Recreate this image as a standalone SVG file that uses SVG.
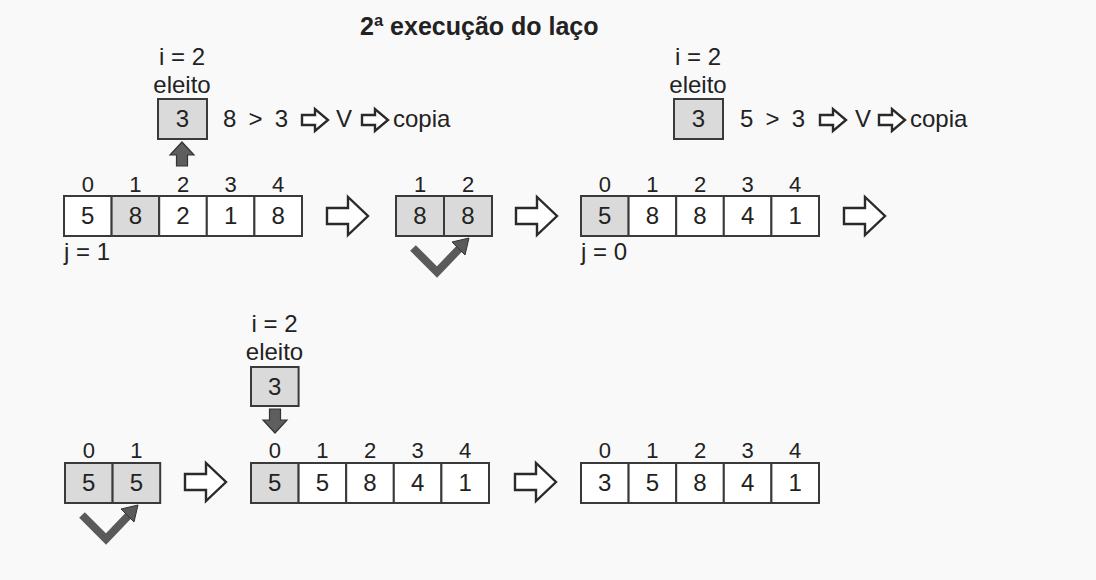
<svg xmlns="http://www.w3.org/2000/svg" xmlns:xlink="http://www.w3.org/1999/xlink" width="1096" height="580" viewBox="0 0 1096 580">
<style>
text{font-family:"Liberation Sans",Arial,sans-serif;fill:#222;}
.t{font-size:24px;}
.idx{font-size:22px;text-anchor:middle;}
.val{font-size:24px;text-anchor:middle;}
.mid{text-anchor:middle;}
.title{font-size:25px;font-weight:bold;}
.cell{fill:#fff;stroke:#3a3a3a;stroke-width:2;}
.g{fill:#dadada;}
.hol{fill:#fff;stroke:#2a2a2a;stroke-width:2.4;stroke-linejoin:miter;}
.solid{fill:#5e5e5e;stroke:#333;stroke-width:1.2;}
.vline{fill:none;stroke:#5a5a5a;stroke-width:8;stroke-linejoin:miter;}
</style>
<defs>
<path id="bigArrow" d="M0,-8 L21,-8 L21,-19 L41,0 L21,19 L21,8 L0,8 Z"/>
<path id="smallArrow" d="M0,-5 L13,-5 L13,-11 L26,0 L13,11 L13,5 L0,5 Z"/>
<g id="swap">
<polyline class="vline" points="0,0 24,24 47,0"/>
<polygon fill="#5a5a5a" stroke="#333" stroke-width="1" points="56,-10 39,-6 52,7"/>
</g>
</defs>
<rect width="1096" height="580" fill="#f9f9f9"/>

<text class="title" x="360" y="35">2ª execução do laço</text>

<g id="step1-label">
<text class="t mid" x="182" y="65">i = 2</text>
<text class="t mid" x="182" y="93">eleito</text>
<rect class="cell g" x="158" y="99" width="49" height="40"/>
<text class="val" x="182.5" y="127">3</text>
<text class="t" x="223" y="127" textLength="65" lengthAdjust="spacing">8 &gt; 3</text>
<use xlink:href="#smallArrow" class="hol" x="302" y="120"/>
<text class="t" x="336" y="127">V</text>
<use xlink:href="#smallArrow" class="hol" x="362" y="120"/>
<text class="t" x="393" y="127">copia</text>
</g>

<g id="step1-array">
<rect class="cell" x="64" y="196" width="47.6" height="40"/>
<rect class="cell g" x="111.6" y="196" width="47.6" height="40"/>
<rect class="cell" x="159.2" y="196" width="47.6" height="40"/>
<rect class="cell" x="206.8" y="196" width="47.6" height="40"/>
<rect class="cell" x="254.4" y="196" width="47.6" height="40"/>
<text class="idx" x="87.8" y="192">0</text>
<text class="idx" x="135.4" y="192">1</text>
<text class="idx" x="183" y="192">2</text>
<text class="idx" x="230.6" y="192">3</text>
<text class="idx" x="278.2" y="192">4</text>
<text class="val" x="87.8" y="224">5</text>
<text class="val" x="135.4" y="224">8</text>
<text class="val" x="183" y="224">2</text>
<text class="val" x="230.6" y="224">1</text>
<text class="val" x="278.2" y="224">8</text>
<text class="t" x="64" y="260">j = 1</text>
</g>

<g id="step2-array">
<rect class="cell g" x="396" y="196" width="48" height="40"/>
<rect class="cell g" x="444" y="196" width="48" height="40"/>
<text class="idx" x="420" y="192">1</text>
<text class="idx" x="468" y="192">2</text>
<text class="val" x="420" y="224">8</text>
<text class="val" x="468" y="224">8</text>
</g>

<g id="step3-label">
<text class="t mid" x="698" y="65">i = 2</text>
<text class="t mid" x="698" y="93">eleito</text>
<rect class="cell g" x="674" y="99" width="49" height="40"/>
<text class="val" x="698.5" y="127">3</text>
<text class="t" x="740" y="127" textLength="65" lengthAdjust="spacing">5 &gt; 3</text>
<use xlink:href="#smallArrow" class="hol" x="820" y="120"/>
<text class="t" x="855" y="127">V</text>
<use xlink:href="#smallArrow" class="hol" x="879" y="120"/>
<text class="t" x="910" y="127">copia</text>
</g>

<g id="step3-array">
<rect class="cell g" x="581" y="196" width="47.6" height="40"/>
<rect class="cell" x="628.6" y="196" width="47.6" height="40"/>
<rect class="cell" x="676.2" y="196" width="47.6" height="40"/>
<rect class="cell" x="723.8" y="196" width="47.6" height="40"/>
<rect class="cell" x="771.4" y="196" width="47.6" height="40"/>
<text class="idx" x="604.8" y="192">0</text>
<text class="idx" x="652.4" y="192">1</text>
<text class="idx" x="700" y="192">2</text>
<text class="idx" x="747.6" y="192">3</text>
<text class="idx" x="795.2" y="192">4</text>
<text class="val" x="604.8" y="224">5</text>
<text class="val" x="652.4" y="224">8</text>
<text class="val" x="700" y="224">8</text>
<text class="val" x="747.6" y="224">4</text>
<text class="val" x="795.2" y="224">1</text>
<text class="t" x="581" y="260">j = 0</text>
</g>

<g id="step4-array">
<rect class="cell g" x="65" y="463" width="47.6" height="40"/>
<rect class="cell g" x="112.6" y="463" width="47.6" height="40"/>
<text class="idx" x="88.8" y="458">0</text>
<text class="idx" x="136.4" y="458">1</text>
<text class="val" x="88.8" y="491">5</text>
<text class="val" x="136.4" y="491">5</text>
</g>

<g id="step5-label">
<text class="t mid" x="274.5" y="332">i = 2</text>
<text class="t mid" x="274.5" y="360">eleito</text>
<rect class="cell g" x="251" y="367" width="47.6" height="39"/>
<text class="val" x="274.8" y="395">3</text>
</g>

<g id="step5-array">
<rect class="cell g" x="251" y="463" width="47.6" height="40"/>
<rect class="cell" x="298.6" y="463" width="47.6" height="40"/>
<rect class="cell" x="346.2" y="463" width="47.6" height="40"/>
<rect class="cell" x="393.8" y="463" width="47.6" height="40"/>
<rect class="cell" x="441.4" y="463" width="47.6" height="40"/>
<text class="idx" x="274.8" y="458">0</text>
<text class="idx" x="322.4" y="458">1</text>
<text class="idx" x="370" y="458">2</text>
<text class="idx" x="417.6" y="458">3</text>
<text class="idx" x="465.2" y="458">4</text>
<text class="val" x="274.8" y="491">5</text>
<text class="val" x="322.4" y="491">5</text>
<text class="val" x="370" y="491">8</text>
<text class="val" x="417.6" y="491">4</text>
<text class="val" x="465.2" y="491">1</text>
</g>

<g id="step6-array">
<rect class="cell" x="581" y="463" width="47.6" height="40"/>
<rect class="cell" x="628.6" y="463" width="47.6" height="40"/>
<rect class="cell" x="676.2" y="463" width="47.6" height="40"/>
<rect class="cell" x="723.8" y="463" width="47.6" height="40"/>
<rect class="cell" x="771.4" y="463" width="47.6" height="40"/>
<text class="idx" x="604.8" y="458">0</text>
<text class="idx" x="652.4" y="458">1</text>
<text class="idx" x="700" y="458">2</text>
<text class="idx" x="747.6" y="458">3</text>
<text class="idx" x="795.2" y="458">4</text>
<text class="val" x="604.8" y="491">3</text>
<text class="val" x="652.4" y="491">5</text>
<text class="val" x="700" y="491">8</text>
<text class="val" x="747.6" y="491">4</text>
<text class="val" x="795.2" y="491">1</text>
</g>

<g id="connectors">
<use xlink:href="#bigArrow" class="hol" x="327" y="216"/>
<use xlink:href="#bigArrow" class="hol" x="516" y="216"/>
<use xlink:href="#bigArrow" class="hol" x="844" y="216"/>
<use xlink:href="#bigArrow" class="hol" x="185" y="482"/>
<use xlink:href="#bigArrow" class="hol" x="515" y="482"/>
<path class="solid" d="M182,142 L194,155 L187.5,155 L187.5,166 L176.5,166 L176.5,155 L170,155 Z"/>
<path class="solid" d="M275,433 L287,420 L280.5,420 L280.5,409 L269.5,409 L269.5,420 L263,420 Z"/>
<use xlink:href="#swap" x="413" y="248"/>
<use xlink:href="#swap" x="82" y="515"/>
</g>
</svg>
